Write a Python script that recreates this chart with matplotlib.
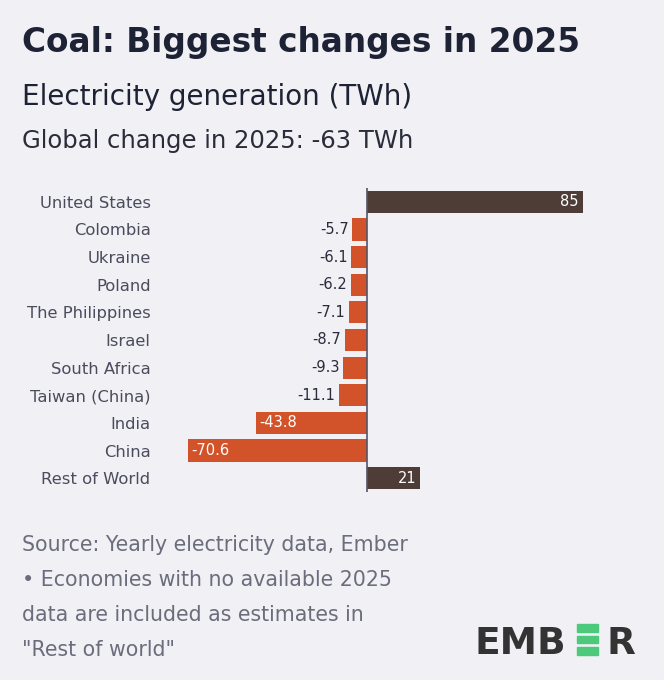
import matplotlib.pyplot as plt
from matplotlib.patches import Rectangle

countries = ["United States", "Colombia", "Ukraine", "Poland", "The Philippines",
             "Israel", "South Africa", "Taiwan (China)", "India", "China", "Rest of World"]
changes = [85, -5.7, -6.1, -6.2, -7.1, -8.7, -9.3, -11.1, -43.8, -70.6, 21]

title = "Coal: Biggest changes in 2025"
subtitle = "Electricity generation (TWh)"
global_note = "Global change in 2025: -63 TWh"
footer = ["Source: Yearly electricity data, Ember",
          "\u2022 Economies with no available 2025",
          "data are included as estimates in",
          "\"Rest of world\""]

bg = "#f0f0f5"
orange = "#d2532a"
brown = "#4e3d37"
dark = "#1e2235"
label_col = "#4a4c5c"
font = "DejaVu Sans"

W, H = 664, 680
fig = plt.figure(figsize=(W / 100, H / 100), dpi=100, facecolor=bg)

# axes placed in pixel terms: x 170..598, y 188..492
ax = fig.add_axes([170 / W, 1 - 492 / H, (598 - 170) / W, (492 - 188) / H])
ax.set_facecolor(bg)
ypos = list(range(len(countries)))
colors = [brown if v > 0 else orange for v in changes]
ax.barh(ypos, changes, height=0.8, color=colors)
ax.set_xlim(-77.5, 91)
ax.set_ylim(len(countries) - 0.5, -0.5)
ax.axvline(0, color="#555566", lw=1.2)
for s in ax.spines.values():
    s.set_visible(False)
ax.set_xticks([])
ax.set_yticks(ypos)
ax.set_yticklabels(countries, fontsize=11.8, color=label_col, family=font)
ax.tick_params(axis="y", length=0, pad=14)

for y, v in zip(ypos, changes):
    txt = f"{v:g}"
    if v > 0:
        ax.text(v - 1.5, y, txt, ha="right", va="center", color="white", fontsize=10.5, family=font)
    elif v < -30:
        ax.text(v + 1.5, y, txt, ha="left", va="center", color="white", fontsize=10.5, family=font)
    else:
        ax.text(v - 1.5, y, txt, ha="right", va="center", color="#2a2c3c", fontsize=10.5, family=font)

fig.text(22 / W, 1 - 52 / H, title, fontsize=23.6, fontweight="bold", color=dark, family=font, va="baseline")
fig.text(22 / W, 1 - 105 / H, subtitle, fontsize=20, color=dark, family=font, va="baseline")
fig.text(22 / W, 1 - 148 / H, global_note, fontsize=17.5, color="#2a2c3a", family=font, va="baseline")

for i, line in enumerate(footer):
    fig.text(22 / W, 1 - (551 + 35 * i) / H, line, fontsize=14.8, color="#6b6d7c", family=font, va="baseline")

# EMBER logo
fig.text(475 / W, 1 - 654 / H, "EMB", fontsize=27, fontweight="bold", color="#333333", family=font, va="baseline")
for top in (624, 635.5, 647):
    fig.patches.append(Rectangle((577 / W, 1 - (top + 7.5) / H), 21 / W, 7.5 / H,
                                 transform=fig.transFigure, color="#4cc97a"))
fig.text(606 / W, 1 - 654 / H, "R", fontsize=27, fontweight="bold", color="#333333", family=font, va="baseline")

fig.savefig("out.png", dpi=100, facecolor=bg)
